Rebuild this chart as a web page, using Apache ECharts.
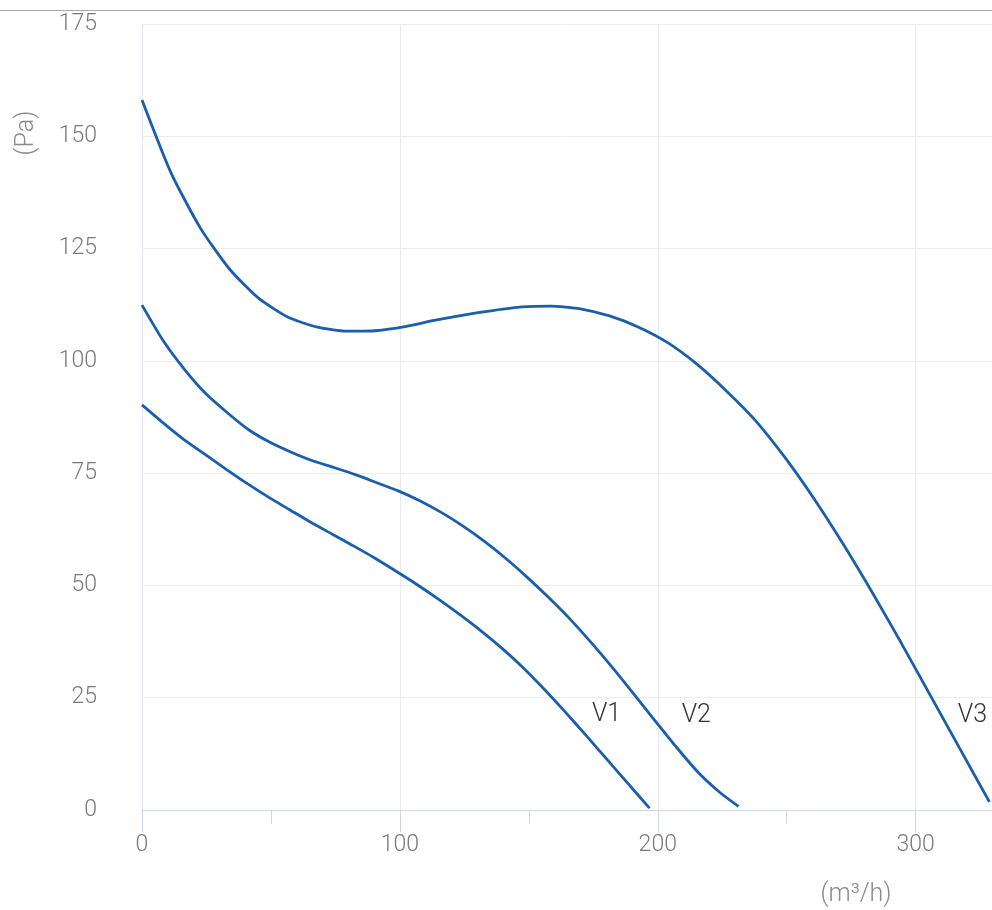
<!DOCTYPE html>
<html>
<head>
<meta charset="utf-8">
<script src="https://cdn.jsdelivr.net/npm/echarts@6/dist/echarts.min.js"></script>
<style>
html,body{margin:0;padding:0;background:#fff;overflow:hidden;}
#chart{width:996px;height:910px;}
</style>
</head>
<body>
<div id="chart"></div>
<script>
// Airflow (m³/h) and static pressure (Pa) for each speed curve
const flowV1 = [0, 8.2, 16.4, 24.6, 32.8, 41, 49.2, 57.4, 65.6, 73.8, 82, 90.2, 98.4, 106.6, 114.8, 123, 131.2, 139.4, 147.6, 155.8, 164, 172.2, 180.4, 188.6, 196.8];
const presV1 = [90.2, 86.2, 82.4, 79.1, 75.8, 72.6, 69.6, 66.8, 64.0, 61.4, 58.8, 56.1, 53.2, 50.2, 47.0, 43.6, 40.0, 36.1, 31.8, 27.0, 21.9, 16.6, 11.2, 5.8, 0.4];

const flowV2 = [0, 8.3, 16.6, 24.9, 33.2, 41.5, 49.8, 58.1, 66.4, 74.7, 83, 91.3, 99.6, 107.9, 116.2, 124.5, 132.8, 141.1, 149.4, 157.7, 166, 174.3, 182.6, 190.9, 199.2, 207.5, 215.8, 224.1, 231.3];
const presV2 = [112.4, 104.4, 98.0, 92.6, 88.4, 84.6, 81.8, 79.6, 77.7, 76.2, 74.6, 72.8, 71.0, 68.8, 66.2, 63.2, 59.8, 56.0, 51.8, 47.3, 42.5, 37.2, 31.6, 25.7, 19.7, 13.8, 8.3, 3.9, 0.8];

const flowV3 = [0, 11.3, 22.7, 34, 45.3, 56.7, 68, 79.3, 90.6, 102, 113.3, 124.6, 136, 147.3, 158.6, 170, 181.3, 192.6, 204, 215.3, 226.6, 237.9, 249.3, 260.6, 271.9, 283.3, 294.6, 305.9, 317.3, 328.6];
const presV3 = [158.1, 141.8, 129.5, 120.4, 113.9, 109.7, 107.5, 106.6, 106.7, 107.6, 109.0, 110.2, 111.2, 112.0, 112.2, 111.6, 110.0, 107.5, 104.0, 99.2, 93.3, 86.7, 78.5, 69.3, 59.2, 48.3, 37.0, 25.3, 13.5, 1.8];

const curveNames = ['V1', 'V2', 'V3'];
const labelIndex = [20, 24, 27];
const labelShift = [[27, 3], [26, -6], [27, 19]];

const xTicks = [0, 100, 200, 300];
const yTicks = [0, 25, 50, 75, 100, 125, 150, 175];

const FONT = 'Roboto';
const LINE_COLOR = '#1b5eab';

function build(flow, pres, idx, name, shift) {
  return flow.map((f, i) => {
    const item = { value: [f, pres[i]] };
    if (i === idx) {
      item.label = {
        show: true,
        formatter: name,
        position: 'right',
        distance: shift[0],
        offset: [0, shift[1]],
        color: '#333',
        fontSize: 25,
        fontFamily: FONT,
        fontWeight: 300
      };
    }
    return item;
  });
}

const datasets = [[flowV1, presV1], [flowV2, presV2], [flowV3, presV3]];

const chart = echarts.init(document.getElementById('chart'), null, { renderer: 'canvas' });
chart.setOption({
  animation: false,
  backgroundColor: '#fff',
  textStyle: { fontFamily: FONT },
  grid: { left: 142, top: 24, right: 0, bottom: 100, containLabel: false },
  xAxis: {
    type: 'value',
    min: 0,
    max: 330,
    interval: 100,
    axisLine: { show: true, lineStyle: { color: '#ccd6eb', width: 1 } },
    axisTick: { show: true, length: 22, lineStyle: { color: '#ccd6eb' } },
    minorTick: { show: true, splitNumber: 2, length: 14, lineStyle: { color: '#ccd6eb' } },
    splitLine: { show: true, lineStyle: { color: '#e6e9f0', width: 1 } },
    axisLabel: {
      margin: 24,
      color: '#7a7a7a',
      fontSize: 23,
      fontFamily: FONT,
      fontWeight: 300,
      formatter: v => (xTicks.indexOf(v) >= 0 ? String(v) : '')
    }
  },
  yAxis: {
    type: 'value',
    min: 0,
    max: 175,
    interval: 25,
    axisLine: { show: false },
    axisTick: { show: false },
    splitLine: { show: true, lineStyle: { color: '#ececec', width: 1 } },
    axisLabel: {
      margin: 45,
      color: '#7a7a7a',
      fontSize: 23,
      fontFamily: FONT,
      fontWeight: 300,
      formatter: v => (yTicks.indexOf(v) >= 0 ? String(v) : '')
    }
  },
  graphic: [
    {
      type: 'line',
      shape: { x1: 0, y1: 10.5, x2: 996, y2: 10.5 },
      style: { stroke: '#a8a8a8', lineWidth: 1 },
      silent: true
    },
    {
      type: 'text',
      x: 26.5, y: 133,
      rotation: Math.PI / 2,
      style: { text: '(Pa)', fill: '#8a8a8a', font: '300 25px ' + FONT, align: 'center', verticalAlign: 'middle' },
      silent: true
    },
    {
      type: 'text',
      x: 856, y: 895,
      style: { text: '(m³/h)', fill: '#8a8a8a', font: '300 25px ' + FONT, align: 'center', verticalAlign: 'middle' },
      silent: true
    }
  ],
  series: datasets.map((d, k) => ({
    type: 'line',
    name: curveNames[k],
    data: build(d[0], d[1], labelIndex[k], curveNames[k], labelShift[k]),
    showSymbol: true,
    symbol: 'circle',
    symbolSize: 0,
    smooth: 0.2,
    clip: true,
    lineStyle: { color: LINE_COLOR, width: 2.8 },
    itemStyle: { color: LINE_COLOR },
    emphasis: { disabled: true }
  }))
});
</script>
</body>
</html>
